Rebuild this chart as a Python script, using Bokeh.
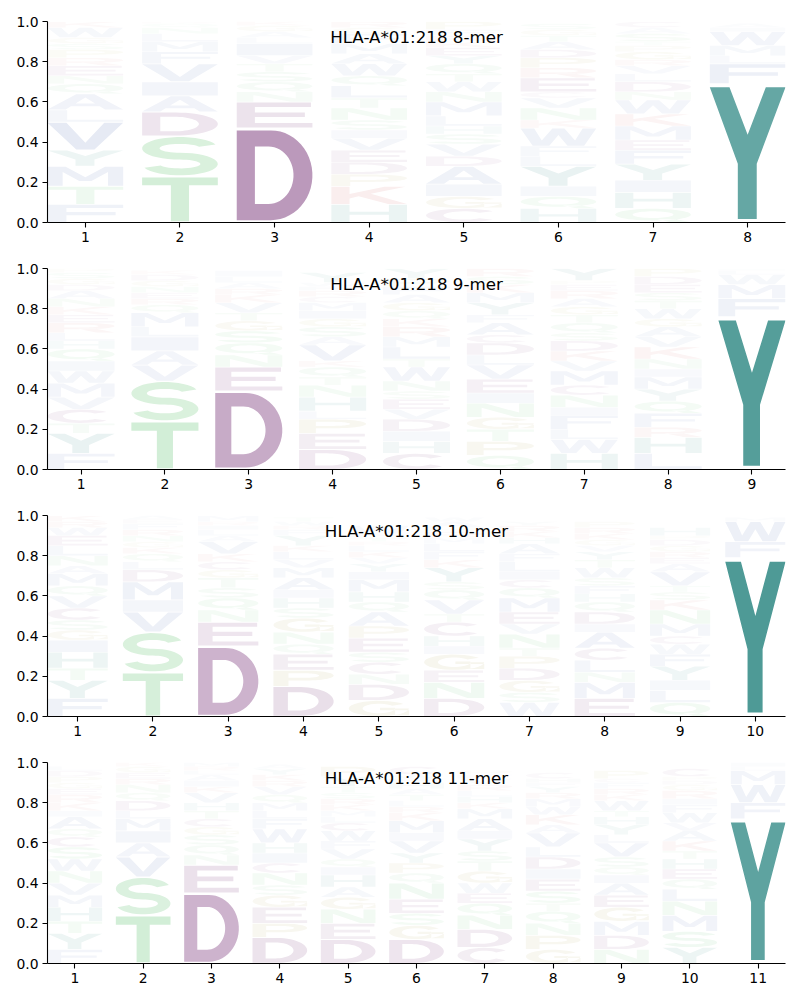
import numpy as np
from bokeh.plotting import figure
from bokeh.layouts import column
from bokeh.models import FixedTicker, NumeralTickFormatter, Label, Range1d
from bokeh.embed import file_html
from bokeh.resources import INLINE

allele = "HLA-A*01:218"
peptide_lengths = [8, 9, 10, 11]

# letters per position, bottom -> top, with their stacked heights (probabilities)
letters_8 = ["FTMYVLAQNERPSGWK", "TSDAIVFMLNQR", "DENQSTVILAGK",
             "HKPDEVISNTLQWAMFGR", "CGIADVSHLMNWTQYEKRFP", "HQIYLFWKNVCERPDATGS",
             "QHIYFEMKWNDLVRGPTSAC", "YFLMWIA"]
heights_8 = [[.09, .09, .10, .08, .14, .06, .08, .05, .04, .05, .04, .04, .03, .03, .05, .03],
             [.23, .20, .12, .08, .07, .09, .06, .05, .04, .03, .02, .01],
             [.47, .13, .05, .05, .05, .04, .04, .06, .03, .03, .03, .02],
             [.09, .09, .06, .06, .06, .06, .04, .05, .06, .05, .06, .05, .06, .05, .05, .05, .03, .03],
             [.07, .06, .06, .09, .05, .06, .05, .04, .05, .07, .05, .05, .04, .05, .04, .04, .03, .03, .03, .04],
             [.07, .06, .05, .10, .05, .05, .09, .04, .06, .05, .03, .07, .05, .05, .04, .04, .03, .03, .03],
             [.07, .08, .06, .08, .07, .05, .07, .06, .07, .04, .05, .04, .04, .03, .04, .03, .02, .04, .03, .03],
             [.69, .10, .04, .05, .07, .02, .02]]

letters_9 = ["FYTCVMWIQHLREKNADGSP", "TSVAILMQRENGDK", "DENQSGTVKRALI",
             "DEPLHNTQKVASGIMCRFWY", "CHIDVESNWTLMRKQGAFPY", "QPTGNIEVLDCAFYMKSR",
             "HWLFINCMVKDSQTGAREPY", "LHRFQYMINKVAGWTSEDP", "YFMWLI"]
heights_9 = [[.08, .10, .05, .07, .06, .07, .06, .05, .06, .04, .04, .05, .04, .04, .04, .04, .03, .03, .03, .02],
             [.24, .20, .08, .07, .07, .05, .07, .04, .03, .03, .03, .03, .03, .02],
             [.39, .12, .06, .06, .06, .05, .04, .05, .04, .03, .03, .03, .03],
             [.10, .08, .07, .04, .07, .06, .04, .05, .03, .08, .04, .05, .04, .04, .04, .03, .03, .02, .02, .05],
             [.08, .06, .05, .06, .05, .05, .04, .05, .07, .04, .06, .05, .05, .04, .04, .04, .04, .04, .04, .05],
             [.07, .07, .06, .06, .07, .05, .07, .07, .05, .06, .04, .06, .04, .06, .05, .04, .04, .04],
             [.08, .07, .05, .07, .04, .06, .05, .07, .05, .05, .05, .04, .05, .04, .04, .04, .04, .03, .02, .06],
             [.08, .08, .05, .07, .06, .06, .06, .04, .05, .06, .05, .05, .04, .05, .04, .04, .04, .04, .04],
             [.76, .09, .07, .05, .02, .01]]

letters_10 = ["FYTHIGSCVQMANLEWRK", "TSVIMDLQKGNRFEA", "DENQSTGCKVALIRM",
              "DPEQNGSHIAMVLKYFRWT", "GDNCSEPAQHMIYVKLRTFW", "DNEGIHCTVQSYKFLMRPAW",
              "WSGDPTNVEMQCILFAHKRY", "EMNLCAIDQHFSWTYVGKRP", "QLIYFWCMNKSTVAERGDPH", "YFWM"]
heights_10 = [[.09, .09, .06, .08, .06, .05, .05, .06, .06, .05, .06, .04, .05, .05, .05, .04, .03, .03],
              [.22, .20, .10, .06, .09, .06, .04, .04, .03, .03, .03, .03, .03, .02, .02],
              [.35, .12, .06, .06, .05, .05, .04, .04, .04, .06, .03, .03, .02, .02, .03],
              [.15, .08, .08, .05, .06, .07, .05, .05, .04, .06, .05, .04, .04, .03, .05, .03, .02, .02, .02],
              [.08, .08, .05, .06, .05, .07, .06, .07, .05, .05, .06, .04, .04, .03, .03, .03, .02, .02, .02, .04],
              [.09, .08, .06, .08, .04, .05, .07, .04, .07, .05, .04, .07, .04, .04, .04, .03, .03, .02, .03, .02],
              [.07, .05, .06, .06, .06, .04, .07, .05, .06, .07, .05, .04, .04, .05, .04, .05, .03, .03, .03, .02],
              [.09, .08, .05, .06, .06, .08, .04, .06, .05, .04, .04, .04, .05, .04, .04, .03, .03, .03, .03, .03],
              [.07, .06, .05, .07, .06, .05, .04, .06, .07, .05, .04, .03, .07, .04, .03, .03, .03, .03, .02, .04],
              [.79, .08, .10, .02]]

letters_11 = ["FYTHMVNWSCQAIKREGPDL", "TSVAIMLDQNREGK", "DENQSGCTHVKIALRM",
              "DPEGSNCIHWFLMQVRKYA", "DENGAHIQVFWCLMKRSTYP", "DGSENQPYVIMKRLTAHFWC",
              "CDNQEWGTSYIAMKHLRVFP", "GPNQTSEIDLVAKWMRYFHC", "NDMGEAIQSVLYHTWKRFCP",
              "YSMNLQEHTKAVWFIRGDPC", "YFWMLI"]
heights_11 = [[.07, .08, .06, .07, .06, .06, .06, .06, .06, .05, .04, .06, .03, .04, .04, .03, .03, .03, .03, .02],
              [.24, .19, .10, .07, .06, .06, .04, .05, .04, .04, .03, .03, .03, .02],
              [.35, .14, .05, .05, .05, .04, .04, .04, .04, .05, .03, .03, .03, .02, .02, .02],
              [.13, .07, .08, .06, .05, .06, .05, .05, .05, .07, .05, .04, .04, .04, .04, .03, .03, .03, .02],
              [.12, .08, .07, .06, .05, .06, .04, .04, .05, .04, .05, .04, .03, .03, .03, .03, .03, .03, .05, .05],
              [.12, .07, .06, .07, .08, .05, .05, .05, .06, .04, .06, .04, .03, .03, .03, .03, .03, .02, .02, .04],
              [.08, .09, .07, .06, .05, .05, .06, .05, .05, .06, .04, .06, .05, .03, .03, .03, .03, .03, .02, .02],
              [.07, .07, .06, .06, .04, .06, .06, .05, .06, .05, .07, .04, .05, .04, .04, .03, .03, .02, .02, .03],
              [.07, .07, .07, .07, .06, .06, .04, .04, .05, .07, .04, .05, .04, .03, .05, .03, .03, .03, .02, .04],
              [.08, .08, .08, .07, .06, .05, .05, .05, .04, .05, .05, .04, .05, .04, .03, .04, .03, .02, .02, .04],
              [.72, .08, .09, .07, .02, .02]]

panel_letters = [letters_8, letters_9, letters_10, letters_11]
panel_heights = [heights_8, heights_9, heights_10, heights_11]

# ---------------- colour scheme ----------------
group_of = {}
for aa in "AFILMVW":
    group_of[aa] = "hydrophobic"
for aa in "YH":
    group_of[aa] = "aromatic"
for aa in "DEC":
    group_of[aa] = "acidic"
for aa in "STNQ":
    group_of[aa] = "polar"
for aa in "GP":
    group_of[aa] = "special"
for aa in "KR":
    group_of[aa] = "basic"
base_rgb = {"hydrophobic": (70, 100, 175), "aromatic": (22, 122, 117),
            "acidic": (105, 30, 105), "polar": (60, 180, 80),
            "special": (150, 140, 30), "basic": (200, 60, 60)}


def blended(aa, h):
    a = min(1.0, 0.96 * h)
    r, g, b = base_rgb[group_of[aa]]
    c = [int(round(255 - a * (255 - v))) for v in (r, g, b)]
    return "#%02x%02x%02x" % tuple(c)


# ---------------- block-letter outlines in a unit box ----------------
def arc(cx, cy, rx, ry, a0, a1, n=28):
    t = np.radians(np.linspace(a0, a1, n))
    return list(cx + rx * np.cos(t)), list(cy + ry * np.sin(t))


def poly(pts):
    return [([p[0] for p in pts], [p[1] for p in pts])]


def rect(x0, y0, x1, y1):
    return poly([(x0, y0), (x1, y0), (x1, y1), (x0, y1)])


def ring_seg(cx, cy, rxo, ryo, rxi, ryi, a0, a1):
    xo, yo = arc(cx, cy, rxo, ryo, a0, a1)
    xi, yi = arc(cx, cy, rxi, ryi, a1, a0)
    return [(xo + xi, yo + yi)]


def shape_A():
    outer = poly([(0, 0), (0.24, 0), (0.31, 0.22), (0.69, 0.22), (0.76, 0), (1, 0), (0.62, 1), (0.38, 1)])[0]
    hole = ([0.37, 0.63, 0.5], [0.39, 0.39, 0.78])
    return [[outer, hole]]


def shape_D():
    ax, ay = arc(0.45, 0.5, 0.55, 0.5, -90, 90)
    hx, hy = arc(0.42, 0.5, 0.33, 0.32, -90, 90)
    return [[([0.0] + ax + [0.0], [0.0] + ay + [1.0]),
             ([0.24] + hx + [0.24], [0.18] + hy + [0.82])]]


def shape_P():
    ax, ay = arc(0.55, 0.68, 0.45, 0.32, -90, 90)
    hx, hy = arc(0.52, 0.68, 0.24, 0.15, -90, 90)
    return [[([0.0, 0.25, 0.25] + ax + [0.0], [0.0, 0.0, 0.36] + ay + [1.0]),
             ([0.25] + hx + [0.25], [0.53] + hy + [0.83])]]


def shape_Q():
    ox, oy = arc(0.5, 0.56, 0.5, 0.44, 0, 360, 48)
    ix, iy = arc(0.5, 0.56, 0.27, 0.25, 0, 360, 48)
    return [[(ox, oy), (ix, iy)]] + [poly([(0.55, 0.22), (0.8, 0.22), (1.0, 0.0), (0.74, 0.0)])]


SHAPES = {
    "A": shape_A(),
    "C": [ring_seg(0.5, 0.5, 0.5, 0.5, 0.27, 0.31, 40, 320)],
    "D": shape_D(),
    "E": [poly([(0, 0), (1, 0), (1, 0.18), (0.24, 0.18), (0.24, 0.42), (0.9, 0.42), (0.9, 0.6),
                (0.24, 0.6), (0.24, 0.82), (0.98, 0.82), (0.98, 1), (0, 1)])],
    "F": [poly([(0, 0), (0.25, 0), (0.25, 0.4), (0.9, 0.4), (0.9, 0.58), (0.25, 0.58),
                (0.25, 0.82), (1, 0.82), (1, 1), (0, 1)])],
    "G": [ring_seg(0.5, 0.5, 0.5, 0.5, 0.27, 0.31, 35, 360), rect(0.52, 0.38, 1.0, 0.54),
          rect(0.77, 0.06, 1.0, 0.54)],
    "H": [poly([(0, 0), (0.24, 0), (0.24, 0.42), (0.76, 0.42), (0.76, 0), (1, 0), (1, 1), (0.76, 1),
                (0.76, 0.6), (0.24, 0.6), (0.24, 1), (0, 1)])],
    "I": [rect(0, 0, 1, 1)],
    "K": [poly([(0, 0), (0.24, 0), (0.24, 0.32), (0.36, 0.45), (0.75, 0), (1, 0), (0.52, 0.6),
                (0.98, 1), (0.7, 1), (0.24, 0.58), (0.24, 1), (0, 1)])],
    "L": [poly([(0, 0), (1, 0), (1, 0.18), (0.26, 0.18), (0.26, 1), (0, 1)])],
    "M": [poly([(0, 0), (0.2, 0), (0.2, 0.72), (0.42, 0.25), (0.58, 0.25), (0.8, 0.72), (0.8, 0),
                (1, 0), (1, 1), (0.76, 1), (0.5, 0.45), (0.24, 1), (0, 1)])],
    "N": [poly([(0, 0), (0.22, 0), (0.22, 0.68), (0.72, 0), (1, 0), (1, 1), (0.78, 1), (0.78, 0.32),
                (0.28, 1), (0, 1)])],
    "P": shape_P(),
    "Q": shape_Q(),
    "R": shape_P() + [poly([(0.45, 0.4), (0.72, 0.4), (1.0, 0.0), (0.73, 0.0)])],
    "S": [ring_seg(0.5, 0.705, 0.5, 0.295, 0.27, 0.115, 20, 270),
          ring_seg(0.5, 0.295, 0.5, 0.295, 0.27, 0.115, 90, -160)],
    "T": [poly([(0, 1), (1, 1), (1, 0.82), (0.62, 0.82), (0.62, 0), (0.38, 0), (0.38, 0.82), (0, 0.82)])],
    "V": [poly([(0, 1), (0.25, 1), (0.5, 0.25), (0.75, 1), (1, 1), (0.62, 0), (0.38, 0)])],
    "W": [poly([(0, 1), (0.18, 1), (0.28, 0.3), (0.42, 1), (0.58, 1), (0.72, 0.3), (0.82, 1), (1, 1),
                (0.84, 0), (0.62, 0), (0.5, 0.62), (0.38, 0), (0.16, 0)])],
    "Y": [poly([(0, 1), (0.26, 1), (0.5, 0.64), (0.74, 1), (1, 1), (0.62, 0.42), (0.62, 0),
                (0.37, 0), (0.37, 0.42)])],
}

GLYPH_WIDTH = 0.8
VPAD = 0.05


def make_panel(idx, n, letters, heights):
    p = figure(frame_width=738, frame_height=201,
               x_range=Range1d(0.6, n + 0.4), y_range=Range1d(0, 1),
               output_backend="svg", toolbar_location=None,
               min_border_left=47, min_border_right=8,
               min_border_top=21 if idx == 0 else 13, min_border_bottom=33,
               background_fill_color="white", border_fill_color="white")
    p.outline_line_color = None
    p.xgrid.grid_line_color = None
    p.ygrid.grid_line_color = None

    xs, ys, cols = [], [], []
    for i in range(n):
        pos = i + 1
        bottom = 0.0
        for aa, h in zip(letters[i], heights[i]):
            y0 = bottom + VPAD * h / 2
            gh = h * (1 - VPAD)
            x0 = pos - GLYPH_WIDTH / 2
            item_x, item_y = [], []
            for polygon in SHAPES[aa]:
                px_rings, py_rings = [], []
                for rx, ry in polygon:
                    px_rings.append([x0 + GLYPH_WIDTH * v for v in rx])
                    py_rings.append([y0 + gh * v for v in ry])
                item_x.append(px_rings)
                item_y.append(py_rings)
            xs.append(item_x)
            ys.append(item_y)
            cols.append(blended(aa, h))
            bottom += h
    p.multi_polygons(xs=xs, ys=ys, fill_color=cols, line_color=None)

    p.add_layout(Label(x=(n + 1) / 2, y=0.925, text=f"{allele} {n}-mer",
                       text_align="center", text_baseline="middle",
                       text_font="DejaVu Sans", text_font_size="16.7px", text_color="black"))

    for ax in (p.xaxis[0], p.yaxis[0]):
        ax.axis_line_color = "black"
        ax.axis_line_width = 1.1
        ax.major_tick_line_color = "black"
        ax.major_tick_line_width = 1.1
        ax.major_tick_out = 5
        ax.major_tick_in = 0
        ax.minor_tick_out = 0
        ax.minor_tick_in = 0
        ax.major_label_text_font = "DejaVu Sans"
        ax.major_label_text_font_size = "13.9px"
        ax.major_label_text_color = "black"
        ax.major_label_standoff = 4
    p.xaxis[0].ticker = FixedTicker(ticks=list(range(1, n + 1)))
    p.yaxis[0].ticker = FixedTicker(ticks=[0.0, 0.2, 0.4, 0.6, 0.8, 1.0])
    p.yaxis[0].formatter = NumeralTickFormatter(format="0.0")
    return p


figs = [make_panel(k, n, L, H)
        for k, (n, L, H) in enumerate(zip(peptide_lengths, panel_letters, panel_heights))]
layout = column(*figs, spacing=0)
open("out.html", "w").write(file_html(layout, INLINE))
